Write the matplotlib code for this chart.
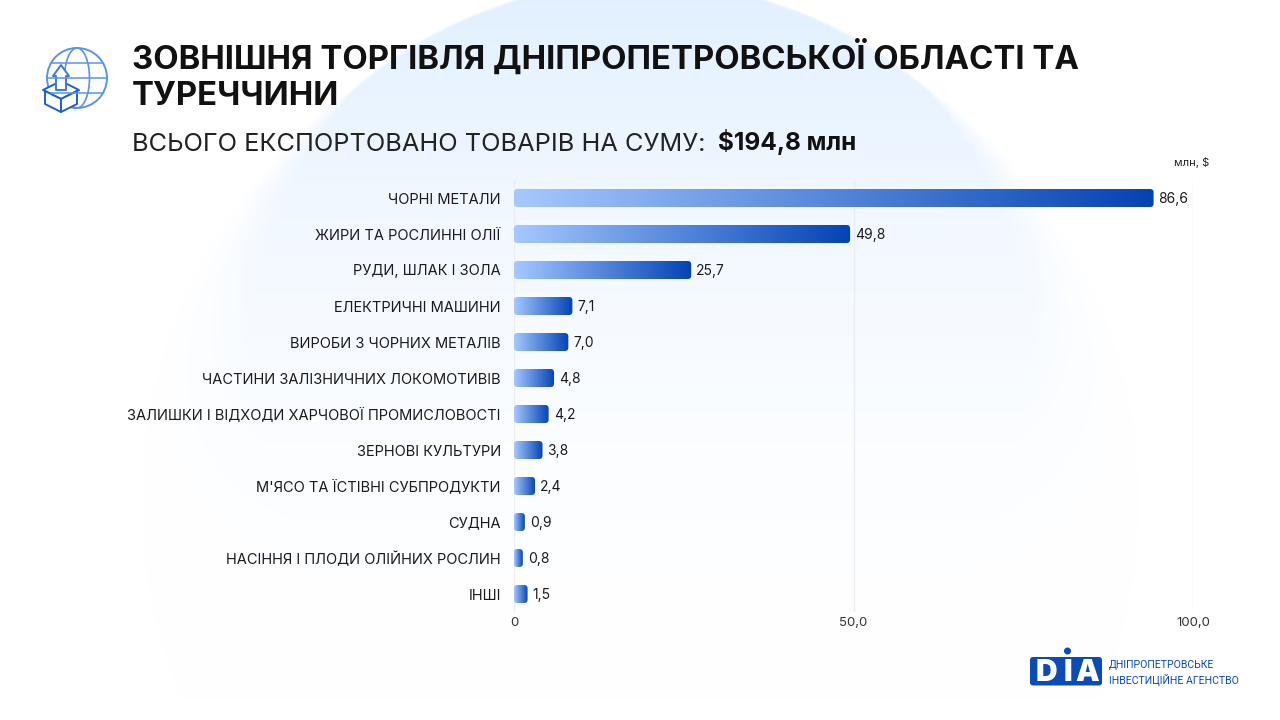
import numpy as np
import matplotlib
matplotlib.use("Agg")
import matplotlib.pyplot as plt
from matplotlib.colors import LinearSegmentedColormap
from matplotlib.patches import Circle, Ellipse, FancyBboxPatch, Polygon

categories = ["ЧОРНІ МЕТАЛИ", "ЖИРИ ТА РОСЛИННІ ОЛІЇ", "РУДИ, ШЛАК І ЗОЛА", "ЕЛЕКТРИЧНІ МАШИНИ",
              "ВИРОБИ З ЧОРНИХ МЕТАЛІВ", "ЧАСТИНИ ЗАЛІЗНИЧНИХ ЛОКОМОТИВІВ",
              "ЗАЛИШКИ І ВІДХОДИ ХАРЧОВОЇ ПРОМИСЛОВОСТІ", "ЗЕРНОВІ КУЛЬТУРИ",
              "М'ЯСО ТА ЇСТІВНІ СУБПРОДУКТИ", "СУДНА", "НАСІННЯ І ПЛОДИ ОЛІЙНИХ РОСЛИН", "ІНШІ"]
# printed labels
values = [86.6, 49.8, 25.7, 7.1, 7.0, 4.8, 4.2, 3.8, 2.4, 0.9, 0.8, 1.5]
# bar ends as read against the 0..100 axis, the source bars don't quite follow their labels
bar_lengths = [94.2, 49.5, 26.1, 8.6, 8.0, 5.9, 5.1, 4.2, 3.1, 1.6, 1.3, 2.0]
x_ticks = [0, 50, 100]
x_tick_labels = ["0", "50,0", "100,0"]

plt.rcParams["font.family"] = ["Inter", "DejaVu Sans"]
W, H = 1280, 720
DARK = "#1b1b1f"
BLUE = "#0a4bb5"
grad = LinearSegmentedColormap.from_list("bar", ["#a5c8ff", "#0443b4"])

fig = plt.figure(figsize=(12.8, 7.2), dpi=100, facecolor="white")

# background: big pale circle that fades out to the bottom
bg = fig.add_axes([0, 0, 1, 1], zorder=0)
yy, xx = np.mgrid[0:H, 0:W]
dist = np.hypot(xx - 640, yy - 420) - 438
soft = 1.5 + np.clip(yy - 90, 0, None) * 0.16
mask = np.clip(0.5 - dist / (2 * soft), 0, 1)
fade = np.clip(1 - yy / 700, 0, 1) ** 2
a = (mask * fade)[..., None]
img = np.array([1, 1, 1]) * (1 - a) + np.array([0.885, 0.942, 1.0]) * a
bg.imshow(img, extent=(0, W, H, 0), aspect="auto", interpolation="bilinear")
bg.set_xlim(0, W)
bg.set_ylim(H, 0)
bg.axis("off")

# chart, 0..100 on x spans px 514..1193, each row is 36 px
ax = fig.add_axes([514 / W, 1 - 612 / H, (1193 - 514) / W, (612 - 180) / H], zorder=2)
ax.patch.set_alpha(0)
for s in ax.spines.values():
    s.set_visible(False)
ax.set_axisbelow(True)
ax.grid(axis="x", color="#e9eef5", lw=1)
ax.set_xticks(x_ticks)
ax.set_xticklabels(x_tick_labels, fontsize=9.5, color="#333333")
ax.set_yticks(range(len(categories)))
ax.set_yticklabels(categories, fontsize=10.5, color=DARK)
ax.tick_params(length=0)
ax.tick_params(axis="y", pad=9.5)
ax.tick_params(axis="x", pad=3.5)

bar_h = 18 / 36
px_x = 100 / 679
for i, (v, length) in enumerate(zip(values, bar_lengths)):
    rx = min(3.5 * px_x, length / 2)
    clip = FancyBboxPatch((0, i - bar_h / 2), length, bar_h, mutation_aspect=(1 / 36) / px_x,
                          boxstyle=f"round,pad=0,rounding_size={rx}",
                          fc="none", ec="none", transform=ax.transData)
    ax.add_patch(clip)
    im = ax.imshow(np.linspace(0, 1, 256)[None, :], cmap=grad, aspect="auto",
                   extent=(0, length, i + bar_h / 2, i - bar_h / 2), zorder=3)
    im.set_clip_path(clip)
    ax.text(length + 5 * px_x, i + 0.02, f"{v:.1f}".replace(".", ","), va="center", ha="left",
            fontsize=10, color=DARK)
ax.set_xlim(0, 100)
ax.set_ylim(len(values) - 0.5, -0.5)

# overlay in pixel coords: titles, icon, logo
ov = fig.add_axes([0, 0, 1, 1], zorder=3)
ov.set_xlim(0, W)
ov.set_ylim(H, 0)
ov.axis("off")
ov.patch.set_alpha(0)

ov.text(132, 69, "ЗОВНІШНЯ ТОРГІВЛЯ ДНІПРОПЕТРОВСЬКОЇ ОБЛАСТІ ТА", fontsize=23.7,
        fontweight="bold", color="#111111", va="baseline")
ov.text(132, 105, "ТУРЕЧЧИНИ", fontsize=23.7, fontweight="bold", color="#111111", va="baseline")
ov.text(132, 151, "ВСЬОГО ЕКСПОРТОВАНО ТОВАРІВ НА СУМУ:", fontsize=18.25, color="#222222", va="baseline")
ov.text(718, 150, "$194,8 млн", fontsize=17.6, fontweight="bold", color="#111111", va="baseline")
ov.text(1192, 162, "млн, $", fontsize=8, color="#222222", ha="center", va="center")

# globe + box icon
ic = "#5a93ee"
ov.add_patch(Circle((77, 78), 30, fc="none", ec=ic, lw=1.4))
ov.add_patch(Ellipse((77, 78), 25, 60, fc="none", ec=ic, lw=1.2))
for y0, half in [(63, 26), (78, 30), (93, 26)]:
    ov.plot([77 - half, 77 + half], [y0, y0], color=ic, lw=1.1)
ov.add_patch(Polygon([(43, 90), (61, 81), (79, 90), (61, 99)], fc="white", ec="#1f5fd0", lw=1.4, joinstyle="round"))
ov.add_patch(Polygon([(45, 91), (61, 99), (61, 112), (45, 104)], fc="white", ec="#1f5fd0", lw=1.4, joinstyle="round"))
ov.add_patch(Polygon([(77, 91), (61, 99), (61, 112), (77, 104)], fc="white", ec="#1f5fd0", lw=1.4, joinstyle="round"))
ov.add_patch(Polygon([(56, 90), (56, 76), (53, 76), (61, 65), (69, 76), (66, 76), (66, 90)],
                     fc="white", ec="#3a78e0", lw=1.4, joinstyle="round"))

# logo
ov.add_patch(FancyBboxPatch((1030, 657), 72, 28.5, boxstyle="round,pad=0,rounding_size=3",
                            fc=BLUE, ec="none"))
ov.add_patch(Circle((1067.5, 651), 3.5, fc=BLUE, ec="none"))
for lx, letter in [(1046.5, "D"), (1067.5, "I"), (1087.5, "A")]:
    ov.text(lx, 681, letter, fontsize=21.5, fontweight="black", color="white", ha="center", va="baseline")
narrow = ["Liberation Sans Narrow", "Roboto"]
ov.text(1109, 665, "ДНІПРОПЕТРОВСЬКЕ", fontsize=7.6, color=BLUE, va="center", family=narrow)
ov.text(1109, 680, "ІНВЕСТИЦІЙНЕ АГЕНСТВО", fontsize=7.6, color=BLUE, va="center", family=narrow)

fig.savefig("out.png", dpi=100)
